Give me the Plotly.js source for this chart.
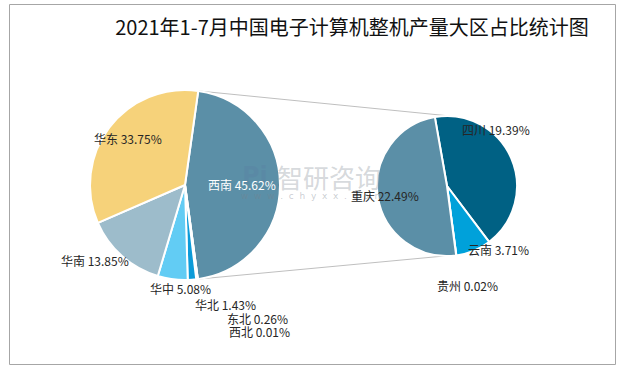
<!DOCTYPE html>
<html>
<head>
<meta charset="utf-8">
<script src="https://cdn.plot.ly/plotly-3.0.1.min.js"></script>
<style>html,body{margin:0;padding:0;background:#fff;}#chart{width:625px;height:367px;}</style>
</head>
<body>
<div id="chart"></div>
<script>
// ---- data ----
const mainLabels = ['西南', '西北', '东北', '华北', '华中', '华南', '华东'];
const mainValues = [45.62, 0.01, 0.26, 1.43, 5.08, 13.85, 33.75];
const mainColors = ['#5B8FA7', '#1B7FB5', '#1591CB', '#0C9BD8', '#62CCF4', '#9DBCCB', '#F6D27A'];

const subLabels = ['四川', '云南', '贵州', '重庆'];
const subValues = [19.39, 3.71, 0.02, 22.49];
const subColors = ['#006184', '#00A1DA', '#3FB7E6', '#5B8FA7'];

const titleText = '2021年1-7月中国电子计算机整机产量大区占比统计图';

// ---- layout helpers ----
const W = 625, H = 367;
const px = x => x / W;
const py = y => 1 - y / H;

// label anchor positions (pixel, left edge / vertical centre)
const mainLabelPos = [[206, 184, '#ffffff'], [227, 331], [225, 318], [193, 304], [148, 288], [59, 260], [92, 138]];
const subLabelPos = [[460, 129], [466, 249], [435, 285], [349, 195]];

const fontFam = '"Noto Sans CJK SC", "Noto Sans", sans-serif';

const annotations = [];
// watermark (drawn first so labels sit on top)
annotations.push({xref: 'paper', yref: 'paper', x: px(329), y: py(176), showarrow: false,
  text: '智研咨询', font: {family: fontFam, size: 26, color: 'rgba(150,158,166,0.40)'}});
annotations.push({xref: 'paper', yref: 'paper', x: px(255), y: py(176), showarrow: false,
  text: '<b>Pi</b>', font: {family: 'DejaVu Sans', size: 24, color: 'rgba(90,120,160,0.22)'}});
annotations.push({xref: 'paper', yref: 'paper', x: px(312), y: py(196), showarrow: false,
  text: 'w  w  w  .  c  h  y  x  x  .  c  o  m', font: {family: 'DejaVu Sans', size: 9, color: 'rgba(120,130,140,0.40)'}});

mainLabels.forEach((l, i) => {
  const p = mainLabelPos[i];
  annotations.push({
    xref: 'paper', yref: 'paper', x: px(p[0]), y: py(p[1]),
    xanchor: 'left', yanchor: 'middle', showarrow: false,
    text: l + ' ' + mainValues[i].toFixed(2) + '%',
    font: {family: fontFam, size: 12, color: p[2] || '#262626'}
  });
});
subLabels.forEach((l, i) => {
  const p = subLabelPos[i];
  annotations.push({
    xref: 'paper', yref: 'paper', x: px(p[0]), y: py(p[1]),
    xanchor: 'left', yanchor: 'middle', showarrow: false,
    text: l + ' ' + subValues[i].toFixed(2) + '%',
    font: {family: fontFam, size: 12, color: '#262626'}
  });
});

// pie geometry
const L = {cx: 185, cy: 185, r: 95};
const R = {cx: 447, cy: 186, r: 70};
const mainRot = 8;
const subRot = -10;

const total = mainValues.reduce((a, b) => a + b, 0);
const a0 = mainRot * Math.PI / 180;
const a1 = (mainRot + mainValues[0] / total * 360) * Math.PI / 180;
const pt = (c, a) => [c.cx + c.r * Math.sin(a), c.cy - c.r * Math.cos(a)];
const lt = pt(L, a0), lb = pt(L, a1);

const shapes = [
  {type: 'line', xref: 'paper', yref: 'paper', x0: px(lt[0]), y0: py(lt[1]), x1: px(450), y1: py(116),
   line: {color: '#BFBFBF', width: 1}, layer: 'below'},
  {type: 'line', xref: 'paper', yref: 'paper', x0: px(lb[0]), y0: py(lb[1]), x1: px(455), y1: py(255),
   line: {color: '#BFBFBF', width: 1}, layer: 'below'},
  {type: 'rect', xref: 'paper', yref: 'paper', x0: px(9.5), y0: py(4.5), x1: px(615.5), y1: py(364.5),
   line: {color: '#A6A6A6', width: 1}}
];

const traces = [
  {
    type: 'pie', labels: mainLabels, values: mainValues, sort: false,
    direction: 'clockwise', rotation: mainRot, textinfo: 'none', hoverinfo: 'label+value',
    marker: {colors: mainColors, line: {color: '#ffffff', width: 2}},
    domain: {x: [px(L.cx - L.r), px(L.cx + L.r)], y: [py(L.cy + L.r), py(L.cy - L.r)]},
    showlegend: false
  },
  {
    type: 'pie', labels: subLabels, values: subValues, sort: false,
    direction: 'clockwise', rotation: subRot, textinfo: 'none', hoverinfo: 'label+value',
    marker: {colors: subColors, line: {color: '#ffffff', width: 2}},
    domain: {x: [px(R.cx - R.r), px(R.cx + R.r)], y: [py(R.cy + R.r), py(R.cy - R.r)]},
    showlegend: false
  }
];

const layout = {
  width: W, height: H,
  margin: {l: 0, r: 0, t: 0, b: 0},
  paper_bgcolor: '#ffffff',
  showlegend: false,
  title: {text: titleText, x: px(352), xanchor: 'center', y: py(28), yanchor: 'middle',
          font: {family: fontFam, size: 20, color: '#111111'}},
  annotations: annotations,
  shapes: shapes
};

Plotly.newPlot('chart', traces, layout, {displayModeBar: false, staticPlot: true});
</script>
</body>
</html>
